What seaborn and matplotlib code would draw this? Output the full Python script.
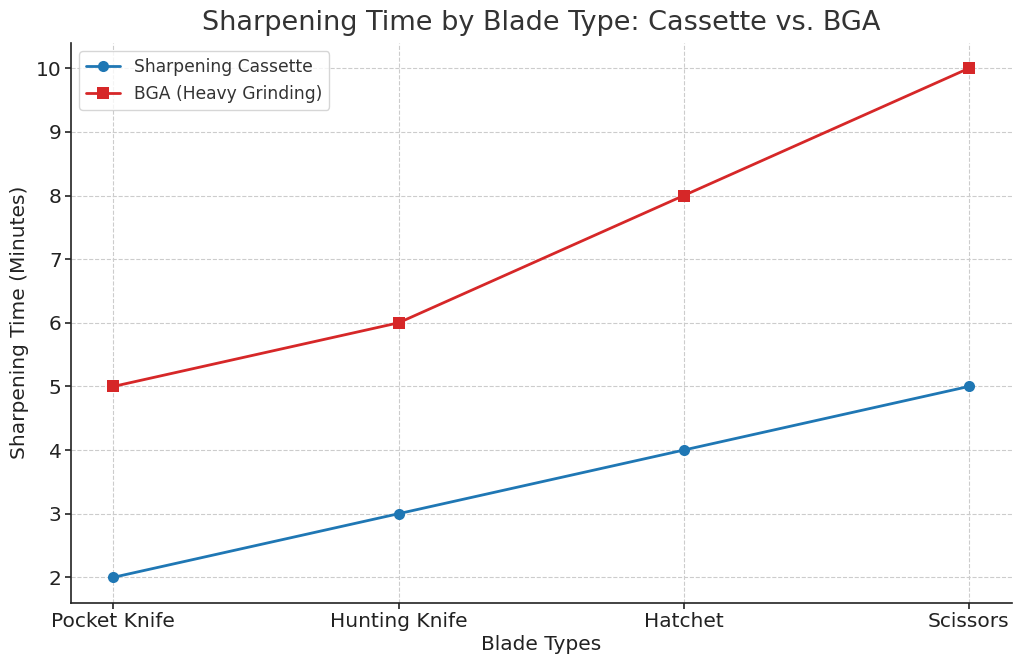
import pandas as pd
import seaborn as sns
import matplotlib.pyplot as plt

blade_types = ["Pocket Knife", "Hunting Knife", "Hatchet", "Scissors"]
cassette_minutes = [2, 3, 4, 5]
bga_minutes = [5, 6, 8, 10]

if __name__ == '__main__':
    df = pd.DataFrame({
        "blade": blade_types * 2,
        "minutes": cassette_minutes + bga_minutes,
        "method": ["Sharpening Cassette"] * 4 + ["BGA (Heavy Grinding)"] * 4,
    })

    sns.set_theme(style="ticks")
    plt.rcParams['font.family'] = ['DejaVu Sans']
    plt.rcParams['text.color'] = '#333333'
    plt.rcParams['axes.labelcolor'] = '#222222'
    plt.rcParams['xtick.color'] = '#222222'
    plt.rcParams['ytick.color'] = '#222222'

    fig, ax = plt.subplots(figsize=(10.24, 6.69), dpi=100)
    fig.subplots_adjust(left=0.069, right=0.988, top=0.936, bottom=0.099)

    sns.lineplot(data=df, x="blade", y="minutes", hue="method", style="method",
                 markers=["o", "s"], dashes=False, markersize=8, linewidth=2,
                 markeredgewidth=0,
                 palette=["#1f77b4", "#d62728"], ax=ax)

    ax.set_title("Sharpening Time by Blade Type: Cassette vs. BGA", fontsize=19.5, pad=9)
    ax.set_xlabel("Blade Types", fontsize=14.5, labelpad=3)
    ax.set_ylabel("Sharpening Time (Minutes)", fontsize=14.5, labelpad=5)
    ax.tick_params(labelsize=14.5, length=4.5, width=1.2, pad=2)
    ax.grid(True, linestyle="--", color="#cccccc", linewidth=0.8)
    ax.set_xlim(-0.15, 3.15)
    ax.set_ylim(1.6, 10.4)
    ax.set_yticks(range(2, 11))
    for s in ["top", "right"]:
        ax.spines[s].set_visible(False)
    for s in ["left", "bottom"]:
        ax.spines[s].set_linewidth(1.2)
        ax.spines[s].set_color("#222222")

    ax.legend(title=None, loc="upper left", fontsize=12.3, frameon=True)

    plt.savefig("out.png", dpi=100)
